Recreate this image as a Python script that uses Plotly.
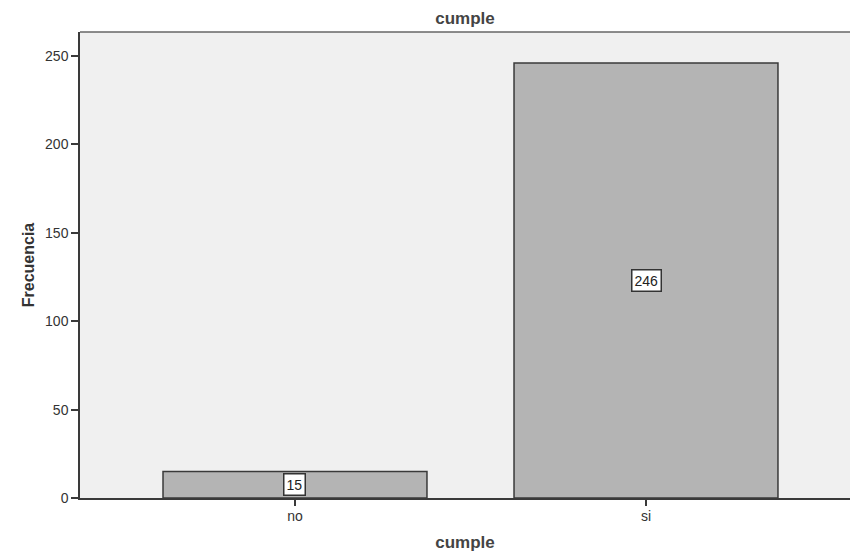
import plotly.graph_objects as go

categories = ["no", "si"]
counts = [15, 246]
y_ticks = [0, 50, 100, 150, 200, 250]

FONT = "Liberation Sans, Arial, sans-serif"

W, H = 850, 554

fig = go.Figure()
fig.add_trace(go.Bar(
    x=categories, y=counts,
    width=0.752,
    marker=dict(color="#b4b4b4", line=dict(color="#3a3a3a", width=1.5)),
    hoverinfo="skip",
))

for c, v in zip(categories, counts):
    fig.add_annotation(
        x=c, y=v / 2, text=str(v), showarrow=False,
        font=dict(family=FONT, size=14, color="#222"),
        bgcolor="white", bordercolor="#333", borderwidth=1.5, borderpad=2,
    )

fig.add_shape(type="line", xref="paper", yref="paper", x0=0, x1=1, y0=1, y1=1,
              line=dict(color="#666", width=1.5))

fig.update_layout(
    width=W, height=H,
    margin=dict(l=80, r=0, t=32, b=56),
    paper_bgcolor="white", plot_bgcolor="#f0f0f0",
    showlegend=False,
    title=dict(text="<b>cumple</b>", x=465 / W, xanchor="center", y=1 - 18 / H, yanchor="middle",
               font=dict(family=FONT, size=17, color="#444")),
    font=dict(family=FONT, size=14, color="#333"),
)
fig.update_xaxes(
    range=[-0.6125, 1.5812], showgrid=False, zeroline=False,
    showline=True, linecolor="#3a3a3a", linewidth=1.5,
    ticks="outside", ticklen=6, tickcolor="#3a3a3a", tickwidth=1.5,
    ticklabelstandoff=-2,
    tickfont=dict(family=FONT, size=14, color="#333"),
    title=dict(text="<b>cumple</b>", font=dict(family=FONT, size=17, color="#444"), standoff=14),
)
fig.update_yaxes(
    range=[0, 263.6], tickvals=y_ticks, showgrid=False, zeroline=False,
    showline=True, linecolor="#3a3a3a", linewidth=1.5,
    ticks="outside", ticklen=7, tickcolor="#3a3a3a", tickwidth=1.5,
    tickfont=dict(family=FONT, size=14, color="#333"),
    title=dict(text="<b>Frecuencia</b>", font=dict(family=FONT, size=16, color="#333"), standoff=6),
)

fig.write_html("out.html", config={"displayModeBar": False},
               post_script="document.body.style.margin='0';document.body.style.overflow='hidden';")
